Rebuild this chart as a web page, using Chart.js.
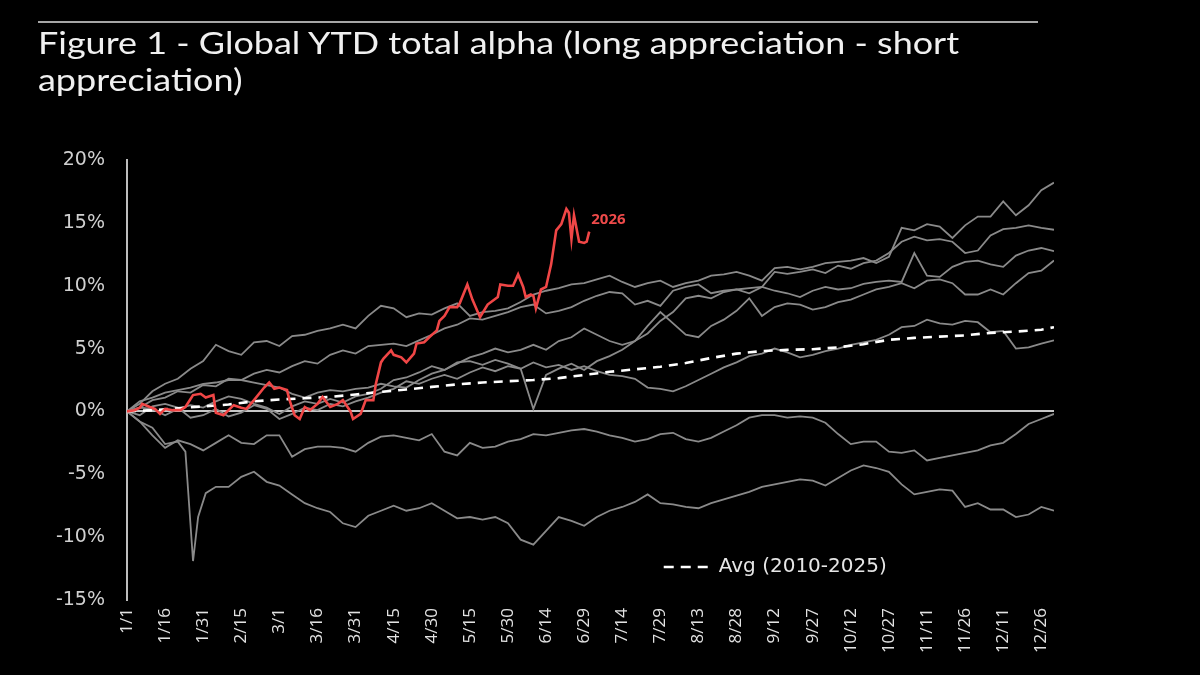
<!DOCTYPE html>
<html>
<head>
<meta charset="utf-8">
<script src="https://cdn.jsdelivr.net/npm/chart.js@4.4.1/dist/chart.umd.min.js"></script>
<style>
  html, body { margin: 0; padding: 0; background: #000; }
  #wrap { position: relative; width: 1200px; height: 675px; background: #000; overflow: hidden; }
  #chart { position: absolute; left: 0; top: 0; }
  #rule { position: absolute; left: 38px; top: 21px; width: 1000px; height: 0; border-top: 2px solid #a6a6a6; }
  #title { position: absolute; left: 38px; top: 24px; width: 900px; white-space: nowrap;
           font-family: Lato, "Open Sans", sans-serif; font-weight: 400; font-size: 31px;
           line-height: 37px; color: #f0f0f0; transform: scaleX(1.16); transform-origin: 0 0; }
</style>
</head>
<body>
<div id="wrap">
  <canvas id="chart" width="1200" height="675"></canvas>
  <div id="rule"></div>
  <div id="title">Figure 1 - Global YTD total alpha (long appreciation - short<br>appreciation)</div>
</div>
<script>
// ---- Data (day of year, 0 = 1/1) ----
const TICK_DAYS = [0,15,30,45,60,75,90,105,120,135,150,165,180,195,210,225,240,255,270,285,300,315,330,345,360];
const TICK_LABELS = ['1/1','1/16','1/31','2/15','3/1','3/16','3/31','4/15','4/30','5/15','5/30','6/14','6/29','7/14','7/29','8/13','8/28','9/12','9/27','10/12','10/27','11/11','11/26','12/11','12/26'];
const Y_TICKS = [-15,-10,-5,0,5,10,15,20];

const DAYS = [0,5,10,15,20,25,30,35,40,45,50,55,60,65,70,75,80,85,90,95,100,105,110,115,120,125,130,135,140,145,150,155,160,165,170,175,180,185,190,195,200,205,210,215,220,225,230,235,240,245,250,255,260,265,270,275,280,285,290,295,300,305,310,315,320,325,330,335,340,345,350,355,360,365];

const SERIES_A = [0,0.6,1.6,2.2,2.6,3.4,4.0,5.3,4.8,4.5, 5.5,5.6,5.2,6.0,6.1,6.4,6.6,6.9,6.6,7.6, 8.4,8.2,7.5,7.8,7.7,8.2,8.6,7.6,7.9,8.0, 8.2,8.7,9.3,9.6,9.8,10.1,10.2,10.5,10.8,10.3, 9.9,10.2,10.4,9.9,10.2,10.4,10.8,10.9,11.1,10.8, 10.4,11.4,11.5,11.3,11.5,11.8,11.9,12.0,12.2,11.8, 12.3,14.6,14.4,14.9,14.7,13.8,14.8,15.5,15.5,16.7, 15.6,16.4,17.6,18.2];
const SERIES_B = [0,0.3,0.9,1.1,1.6,1.5,2.1,2.0,2.6,2.5, 3.0,3.3,3.1,3.6,4.0,3.8,4.5,4.85,4.6,5.2, 5.3,5.4,5.2,5.65,6.1,6.6,6.9,7.4,7.3,7.6, 7.9,8.3,8.5,7.8,8.0,8.3,8.8,9.2,9.5,9.4, 8.5,8.8,8.4,9.6,9.9,10.1,9.4,9.6,9.7,9.4, 9.9,11.1,10.95,11.1,11.3,11.0,11.6,11.35,11.8,12.0, 12.6,13.5,13.9,13.6,13.7,13.5,12.6,12.8,14.0,14.5, 14.6,14.8,14.6,14.45];
const SERIES_C = [0,0.8,1.1,1.5,1.7,1.9,2.2,2.3,2.5,2.5, 2.3,2.1,1.9,1.4,1.1,1.5,1.7,1.6,1.8,1.9, 2.2,2.0,1.9,2.5,3.0,3.3,3.8,4.3,4.6,5.0, 4.7,4.9,5.3,4.9,5.6,5.9,6.6,6.1,5.6,5.3, 5.6,6.2,7.2,7.9,9.0,9.2,9.0,9.5,9.7,9.8, 9.9,9.6,9.4,9.1,9.6,9.9,9.7,9.8,10.15,10.3, 10.4,10.3,12.6,10.8,10.7,11.5,11.9,12.0,11.7,11.5, 12.4,12.8,13.0,12.75];
const SERIES_D = [0,0.3,0.2,-0.3,0.2,0.5,0.3,0.8,1.2,1.0, 0.6,0.3,-0.2,0.4,0.8,0.6,1.0,0.7,1.2,1.4, 1.8,2.5,2.7,3.1,3.6,3.3,3.9,4.0,3.7,4.1, 3.8,3.4,0.2,2.9,3.4,3.8,3.3,4.0,4.4,4.9, 5.6,6.8,7.9,7.0,6.1,5.9,6.8,7.3,8.0,9.0, 7.6,8.3,8.6,8.5,8.1,8.3,8.7,8.9,9.3,9.7, 9.9,10.2,9.8,10.4,10.5,10.2,9.3,9.3,9.7,9.3, 10.2,11.0,11.2,12.0];
const SERIES_E = [0,-0.3,0.4,0.6,0.3,-0.5,-0.3,0.2,-0.4,-0.1, 0.5,0.2,-0.6,-0.2,0.3,0.1,0.6,0.4,0.8,1.1, 1.5,1.8,2.4,2.2,2.6,2.9,2.6,3.1,3.5,3.2, 3.6,3.4,3.9,3.5,3.7,3.3,3.6,3.2,2.9,2.8, 2.6,1.9,1.8,1.6,2.0,2.5,3.0,3.5,3.9,4.4, 4.6,5.0,4.7,4.3,4.5,4.8,5.0,5.3,5.5,5.7, 6.1,6.7,6.8,7.3,7.0,6.9,7.2,7.1,6.3,6.4, 5.0,5.1,5.4,5.65];
const SERIES_F = [0,-0.8,-1.9,-2.9,-2.3,-2.6,-3.1,-2.5,-1.9,-2.5, -2.6,-1.9,-1.9,-3.6,-3.0,-2.8,-2.8,-2.9,-3.2,-2.5, -2.0,-1.9,-2.1,-2.3,-1.8,-3.2,-3.5,-2.5,-2.9,-2.8, -2.4,-2.2,-1.8,-1.9,-1.7,-1.5,-1.4,-1.6,-1.9,-2.1, -2.4,-2.2,-1.8,-1.7,-2.2,-2.4,-2.1,-1.6,-1.1,-0.5, -0.3,-0.3,-0.5,-0.4,-0.5,-0.9,-1.8,-2.6,-2.4,-2.4, -3.2,-3.3,-3.1,-3.9,-3.7,-3.5,-3.3,-3.1,-2.7,-2.5, -1.8,-1.0,-0.6,-0.2];

const G_DAYS = [0,5,10,15,20,23,26,28,31,35,40,45,50,55,60,65,70,75,80,85,90,95,100,105,110,115,120,125,130,135,140,145,150,155,160,165,170,175,180,185,190,195,200,205,210,215,220,225,230,235,240,245,250,255,260,265,270,275,280,285,290,295,300,305,310,315,320,325,330,335,340,345,350,355,360,365];
const SERIES_G = [0,-0.8,-1.3,-2.6,-2.4,-3.2,-11.9,-8.4,-6.5, -6.0,-6.0,-5.2,-4.8,-5.6,-5.9,-6.6,-7.3,-7.7,-8.0, -8.9,-9.2,-8.3,-7.9,-7.5,-7.9,-7.7,-7.3,-7.9,-8.5, -8.4,-8.6,-8.4,-8.9,-10.2,-10.6,-9.5,-8.4,-8.7,-9.1, -8.4,-7.9,-7.6,-7.2,-6.6,-7.3,-7.4,-7.6,-7.7,-7.3, -7.0,-6.7,-6.4,-6.0,-5.8,-5.6,-5.4,-5.5,-5.9,-5.3, -4.7,-4.3,-4.5,-4.8,-5.8,-6.6,-6.4,-6.2,-6.3,-7.6, -7.3,-7.8,-7.8,-8.4,-8.2,-7.6,-7.9];

const AVG_DAYS = [0,10,20,30,40,50,60,70,80,90,100,110,120,130,140,150,160,170,180,190,200,210,220,230,240,250,260,270,280,290,300,310,320,330,340,350,360,365];
const AVG_VALUES = [0,0.1,0.25,0.4,0.55,0.8,0.95,1.05,1.15,1.35,1.55,1.75,1.95,2.15,2.3,2.4,2.5,2.65,2.9,3.15,3.35,3.55,3.85,4.25,4.6,4.8,4.9,4.95,5.1,5.35,5.7,5.85,5.95,6.05,6.25,6.35,6.5,6.7];

const Y2026_DAYS = [0,3,5,6,9,11,13,15,18,21,23,26,29,31,34,35,38,40,42,45,47,50,54,56,58,60,63,64,66,68,70,72,75,77,80,83,85,88,89,92,94,97,98,100,101,104,105,108,110,113,114,117,119,122,123,125,127,130,131,134,136,139,142,146,147,150,152,154,156,157,159,160,161,163,165,167,169,171,173,174,175,176,178,180,181,182];
const Y2026_VALUES = [0,0.1,0.3,0.6,0.35,0.2,-0.2,0.2,0.1,0.1,0.35,1.3,1.4,1.1,1.3,-0.1,-0.3,0.1,0.5,0.3,0.2,0.9,1.9,2.3,1.8,1.9,1.7,0.9,-0.3,-0.6,0.35,0.1,0.6,1.15,0.35,0.6,0.9,0.0,-0.6,-0.2,0.9,0.9,2.2,3.9,4.2,4.85,4.5,4.3,3.9,4.6,5.4,5.5,5.9,6.45,7.2,7.6,8.3,8.3,8.6,10.1,8.9,7.5,8.5,9.1,10.1,10.0,10.0,10.9,9.9,9.1,9.3,9.2,8.2,9.7,9.9,11.7,14.4,14.9,16.1,15.8,13.7,15.6,13.5,13.4,13.5,14.3];

const LABEL_2026 = '2026';
const LEGEND_AVG = 'Avg (2010-2025)';

// ---- helpers ----
const pts = (xs, ys) => xs.map((x, i) => ({ x: x, y: ys[i] }));
const GREY = '#8a8a8a';
const greySet = (xs, ys) => ({ data: pts(xs, ys), borderColor: GREY, borderWidth: 1.8, order: 3 });

const extras = {
  id: 'extras',
  afterDatasetsDraw(chart) {
    const ctx = chart.ctx;
    const area = chart.chartArea;
    const meta = chart.getDatasetMeta(0);
    const last = meta.data[meta.data.length - 1];
    ctx.save();
    ctx.fillStyle = '#ee4a4a';
    ctx.font = 'bold 15px "Open Sans", sans-serif';
    ctx.textBaseline = 'middle';
    ctx.textAlign = 'left';
    ctx.fillText(LABEL_2026, last.x + 2, last.y - 12);
    const lx = area.left + 0.579 * (area.right - area.left);
    const ly = area.top + 0.925 * (area.bottom - area.top);
    ctx.strokeStyle = '#ffffff';
    ctx.lineWidth = 2.5;
    ctx.setLineDash([10, 7]);
    ctx.beginPath();
    ctx.moveTo(lx, ly);
    ctx.lineTo(lx + 51, ly);
    ctx.stroke();
    ctx.setLineDash([]);
    ctx.fillStyle = '#e6e6e6';
    ctx.font = '20px "DejaVu Sans", sans-serif';
    ctx.fillText(LEGEND_AVG, lx + 55, ly);
    ctx.restore();
  }
};

new Chart(document.getElementById('chart'), {
  type: 'line',
  data: {
    datasets: [
      { label: LABEL_2026, data: pts(Y2026_DAYS, Y2026_VALUES), borderColor: '#f04646', borderWidth: 2.6, order: 1 },
      { label: LEGEND_AVG, data: pts(AVG_DAYS, AVG_VALUES), borderColor: '#ffffff', borderWidth: 2.6, borderDash: [9, 7], order: 2 },
      greySet(DAYS, SERIES_A),
      greySet(DAYS, SERIES_B),
      greySet(DAYS, SERIES_C),
      greySet(DAYS, SERIES_D),
      greySet(DAYS, SERIES_E),
      greySet(DAYS, SERIES_F),
      greySet(G_DAYS, SERIES_G)
    ]
  },
  options: {
    responsive: false,
    animation: false,
    devicePixelRatio: 1,
    layout: { padding: { top: 160, right: 146, left: 0, bottom: 0 } },
    elements: { point: { radius: 0 }, line: { tension: 0 } },
    plugins: { legend: { display: false }, tooltip: { enabled: false }, title: { display: false } },
    scales: {
      x: {
        type: 'linear', min: 0, max: 365,
        afterFit: s => { s.height = 75; },
        afterBuildTicks: s => { s.ticks = TICK_DAYS.map(v => ({ value: v })); },
        grid: { display: false, drawTicks: false },
        border: { display: false },
        ticks: {
          autoSkip: false, minRotation: 90, maxRotation: 90, padding: 8,
          color: '#e2e2e2', font: { family: '"Open Sans", sans-serif', size: 17 },
          callback: v => TICK_LABELS[TICK_DAYS.indexOf(v)]
        }
      },
      y: {
        min: -15, max: 20,
        afterFit: s => { s.width = 127; },
        afterBuildTicks: s => { s.ticks = Y_TICKS.map(v => ({ value: v })); },
        grid: {
          drawTicks: false, lineWidth: 2,
          color: c => (c.tick && c.tick.value === 0) ? '#c6c6c6' : 'rgba(0,0,0,0)'
        },
        border: { display: true, color: '#bdbdbd', width: 2 },
        ticks: {
          padding: 22, color: '#d0d0d0', font: { family: '"DejaVu Sans", sans-serif', size: 19 },
          callback: v => v + '%'
        }
      }
    }
  },
  plugins: [extras]
});
</script>
</body>
</html>
